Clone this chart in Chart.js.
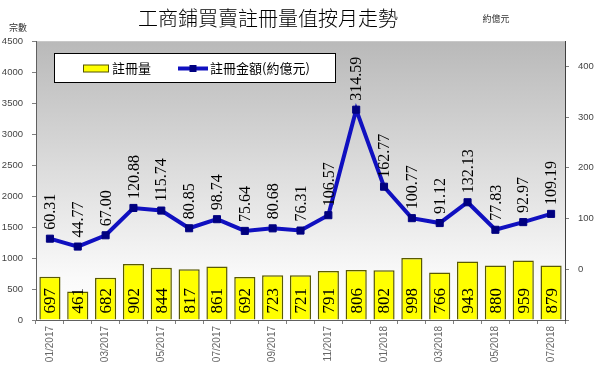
<!DOCTYPE html>
<html><head><meta charset="utf-8">
<script src="https://cdn.jsdelivr.net/npm/chart.js@4/dist/chart.umd.min.js"></script>
<style>html,body{margin:0;padding:0;background:#fff}#wrap{width:611px;height:373px}</style>
</head><body><div id="wrap"><canvas id="c" width="611" height="373"></canvas></div>
<script>
const months = ['01/2017','02/2017','03/2017','04/2017','05/2017','06/2017','07/2017','08/2017','09/2017','10/2017','11/2017','12/2017','01/2018','02/2018','03/2018','04/2018','05/2018','06/2018','07/2018'];
const counts = [697,461,682,902,844,817,861,692,723,721,791,806,802,998,766,943,880,959,879];
const amounts = [60.31,44.77,67.00,120.88,115.74,80.85,98.74,75.64,80.68,76.31,106.57,314.59,162.77,100.77,91.12,132.13,77.83,92.97,109.19];
const rightTickValues = [0,100,200,300,400];
const titleText = '工商鋪買賣註冊量值按月走勢';
const leftUnit = '宗數';
const rightUnit = '約億元';
const seriesNames = ['註冊量','註冊金額(約億元)'];

const CJK = '"Noto Sans CJK TC","Noto Sans CJK SC",sans-serif';

const bgPlugin = {
  id:'bg',
  beforeDraw(chart){
    const {ctx, chartArea:a} = chart;
    const g = ctx.createLinearGradient(0,a.top,0,a.bottom);
    g.addColorStop(0,'#b9b9b9');
    g.addColorStop(0.85,'#fafafa');
    g.addColorStop(1,'#ffffff');
    ctx.save();
    ctx.fillStyle='#fff';
    ctx.fillRect(0,0,chart.width,chart.height);
    ctx.fillStyle=g;
    ctx.fillRect(a.left,a.top,a.right-a.left,a.bottom-a.top);
    ctx.strokeStyle='#c8c8c8';
    ctx.lineWidth=1;
    ctx.beginPath();
    ctx.moveTo(a.left,a.top+0.5);ctx.lineTo(a.right,a.top+0.5);
    ctx.stroke();
    ctx.restore();
  }
};

const labelPlugin = {
  id:'labels',
  afterDatasetsDraw(chart){
    const ctx = chart.ctx;
    ctx.save();
    ctx.fillStyle='#000';
    ctx.textAlign='left';
    ctx.textBaseline='middle';
    const barMeta = chart.getDatasetMeta(0);
    ctx.font='17px "Liberation Serif", serif';
    barMeta.data.forEach((el,i)=>{
      ctx.save();
      ctx.translate(el.x, el.base-6);
      ctx.rotate(-Math.PI/2);
      ctx.fillText(String(counts[i]),0,1);
      ctx.restore();
    });
    const lineMeta = chart.getDatasetMeta(1);
    ctx.font='16px "Liberation Serif", serif';
    lineMeta.data.forEach((el,i)=>{
      ctx.save();
      ctx.translate(el.x, el.y-9);
      ctx.rotate(-Math.PI/2);
      ctx.fillText(amounts[i].toFixed(2),0,1);
      ctx.restore();
    });
    ctx.restore();
  },
  afterDraw(chart){
    const ctx = chart.ctx;
    ctx.save();
    ctx.fillStyle='#000';
    ctx.textAlign='center';
    ctx.textBaseline='middle';
    ctx.font='300 20px '+CJK;
    ctx.fillText(titleText, 268, 18);
    ctx.font='9px '+CJK;
    ctx.fillStyle='#333';
    ctx.fillText(leftUnit, 18, 28);
    ctx.fillText(rightUnit, 496, 19);
    // legend
    const lx=54, ly=53, lw=281, lh=29;
    ctx.fillStyle='#fff';
    ctx.fillRect(lx,ly,lw,lh);
    ctx.strokeStyle='#000';
    ctx.lineWidth=1;
    ctx.strokeRect(lx+0.5,ly+0.5,lw,lh);
    const cy = ly+lh/2+1;
    ctx.fillStyle='#ffff00';
    ctx.fillRect(83,cy-3.5,25,7);
    ctx.strokeStyle='#555500';
    ctx.strokeRect(83.5,cy-3.5,25,7);
    ctx.fillStyle='#000';
    ctx.textAlign='left';
    ctx.font='13px '+CJK;
    ctx.fillText(seriesNames[0],112,cy);
    ctx.strokeStyle='#1010c0';
    ctx.lineWidth=4;
    ctx.beginPath();ctx.moveTo(178,cy);ctx.lineTo(208,cy);ctx.stroke();
    ctx.fillStyle='#000080';
    ctx.fillRect(189.5,cy-3.5,7,7);
    ctx.fillStyle='#000';
    ctx.fillText(seriesNames[1],210,cy);
    ctx.restore();
  }
};

new Chart(document.getElementById('c'), {
  type:'bar',
  data:{
    labels: months,
    datasets:[
      {type:'bar', label:seriesNames[0], data:counts, yAxisID:'y', order:2,
       backgroundColor:'#ffff00', borderColor:'#5a5a00', borderWidth:1.5,
       barPercentage:0.76, categoryPercentage:1.0},
      {type:'line', label:seriesNames[1], data:amounts, yAxisID:'y1', order:1,
       borderColor:'#1010c0', borderWidth:4, pointStyle:'rect', pointRadius:5,
       pointBackgroundColor:'#000080', pointBorderColor:'#000080', pointBorderWidth:1,
       tension:0, fill:false}
    ]
  },
  options:{
    responsive:false, animation:false,
    layout:{padding:{top:41,left:0,right:0,bottom:0}},
    plugins:{legend:{display:false}, title:{display:false}, tooltip:{enabled:false}},
    scales:{
      x:{
        offset:true,
        grid:{display:true, drawOnChartArea:false, offset:true, tickLength:4, color:'#808080'},
        border:{display:true, color:'#606060'},
        ticks:{autoSkip:false, maxRotation:90, minRotation:90, padding:2, color:'#666',
          font:{size:10, family:'"Liberation Sans", sans-serif'},
          callback:(v,i)=> i%2===0 ? months[i] : ''},
        afterFit:s=>{s.height=53;}
      },
      y:{
        position:'left', min:0, max:4500,
        ticks:{stepSize:500, color:'#444', padding:9, font:{size:9.5, family:'"Liberation Sans", sans-serif'},
          callback:v=>String(v)},
        grid:{display:true, drawOnChartArea:false, tickLength:4, color:'#808080'},
        border:{display:true, color:'#606060'},
        afterFit:s=>{s.width=36;}
      },
      y1:{
        position:'right', min:-100, max:450,
        afterBuildTicks:s=>{s.ticks = [-100].concat(rightTickValues).map(v=>({value:v}));},
        ticks:{color:'#444', padding:9, font:{size:9.5, family:'"Liberation Sans", sans-serif'},
          callback:v=> rightTickValues.includes(v) ? String(v) : ''},
        grid:{display:true, drawOnChartArea:false, tickLength:4, color:'#808080'},
        border:{display:true, color:'#404040'},
        afterFit:s=>{s.width=46;}
      }
    }
  },
  plugins:[bgPlugin, labelPlugin]
});
</script>
</body></html>
